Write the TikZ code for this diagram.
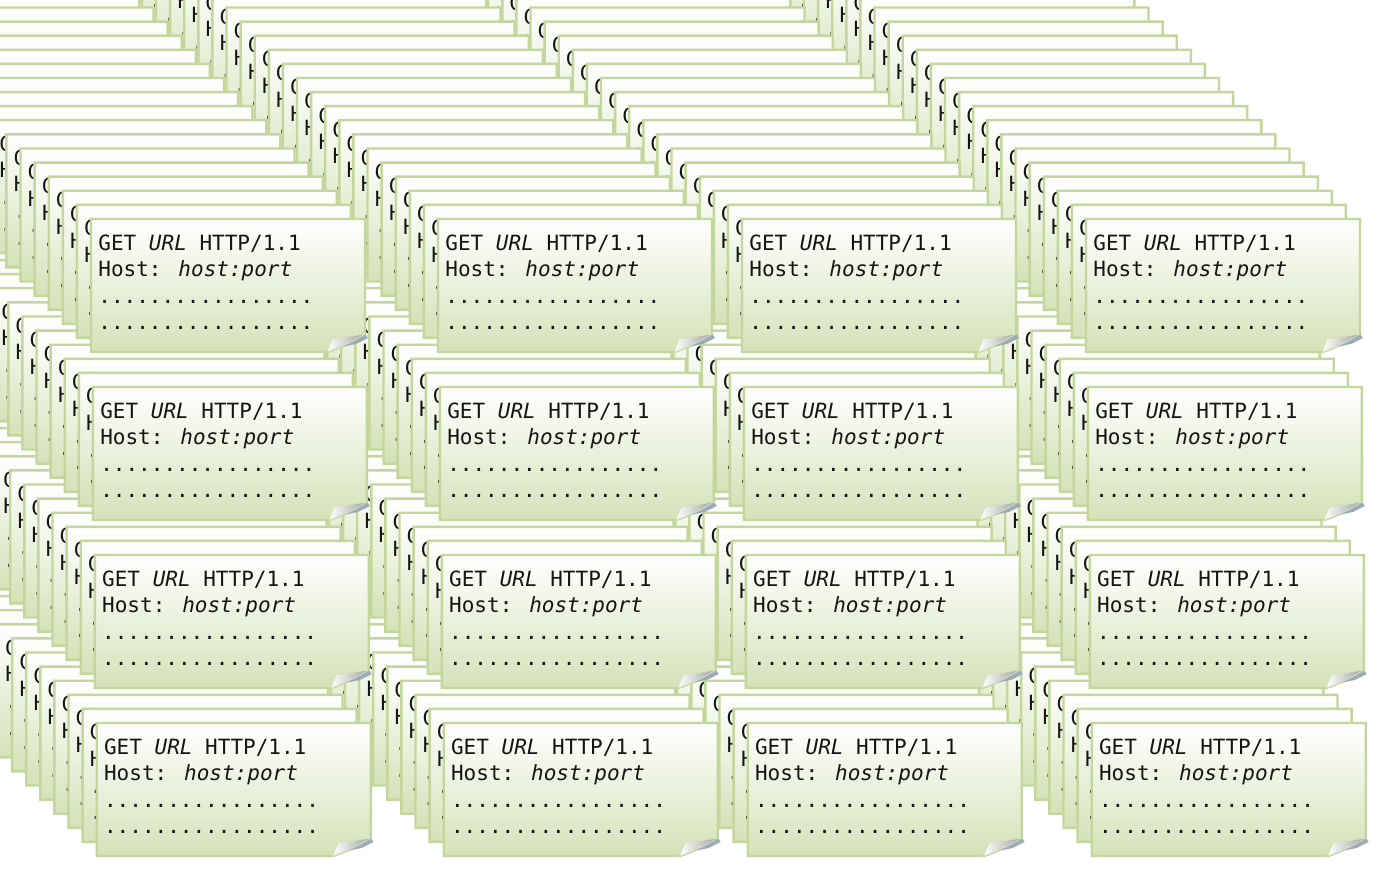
\documentclass[tikz,border=0pt]{standalone}
\usepackage{fontspec}
\newfontfamily\cardfont[ItalicFont={DejaVu Sans Mono Oblique}]{DejaVu Sans Mono}
\definecolor{cardborder}{HTML}{C3D69B}
\definecolor{cardgreen}{HTML}{D4E2B8}
\definecolor{foldgray}{HTML}{A0A0A0}
\definecolor{foldshadow}{HTML}{9DAAB8}
\definecolor{cardtext}{HTML}{141414}
\newsavebox\cardtextbox
\tikzset{
  cardbody/.style={draw=cardborder, line width=1.2pt, top color=white, middle color=white!78!cardgreen, bottom color=cardgreen},
  cardflap/.style={left color=white, right color=foldgray, draw=cardborder!70!white, line width=0.4pt},
  cardshade/.style={fill=foldshadow},
  cardlabel/.style={inner sep=0pt, anchor=base west}
}
\newcommand\httpcard[2]{%
  \begin{scope}[shift={(#1,#2)}]
    \path[cardbody] (0,0) -- (274,0) -- (274,115) .. controls (263,122) and (249,129) .. (236,133) -- (0,133) -- cycle;
    \path[cardshade] (274,115) .. controls (266,120) and (258,124) .. (250,128) -- (265,125) -- (277,119) -- cycle;
    \path[cardflap] (274,115) -- (241,120) -- (236,133) .. controls (249,129) and (263,122) .. (274,115) -- cycle;
    \node[cardlabel] (t) at (7,31) {\usebox\cardtextbox};
  \end{scope}}
\begin{document}
\sbox\cardtextbox{\cardfont\fontsize{10.5pt}{13.3pt}\selectfont\color{cardtext}%
  \vtop{\baselineskip=13.3pt
    \hbox{GET \textit{URL} HTTP/1.1}
    \hbox{Host: \textit{host:port}}
    \hbox{.................}
    \hbox{.................}}}%
\begin{tikzpicture}[x=0.5pt,y=-0.5pt]
\useasboundingbox (0,0) rectangle (1378,872);
\clip (0,0) rectangle (1378,872);
\fill[white] (0,0) rectangle (1378,872);
\foreach \k in {61,60,...,0}{
  \foreach \xc in {91,438,742,1086}{
    \foreach \r in {0,1,2,3}{
      \pgfmathsetmacro\cx{\xc+1.9*\r-14.1*\k}
      \pgfmathsetmacro\cy{219+168*\r-14.1*\k}
      \pgfmathtruncatemacro\vis{(\cx>-276)*(\cy>-135)}
      \ifnum\vis=1 \httpcard{\cx}{\cy}\fi
    }}}
\end{tikzpicture}
\end{document}
